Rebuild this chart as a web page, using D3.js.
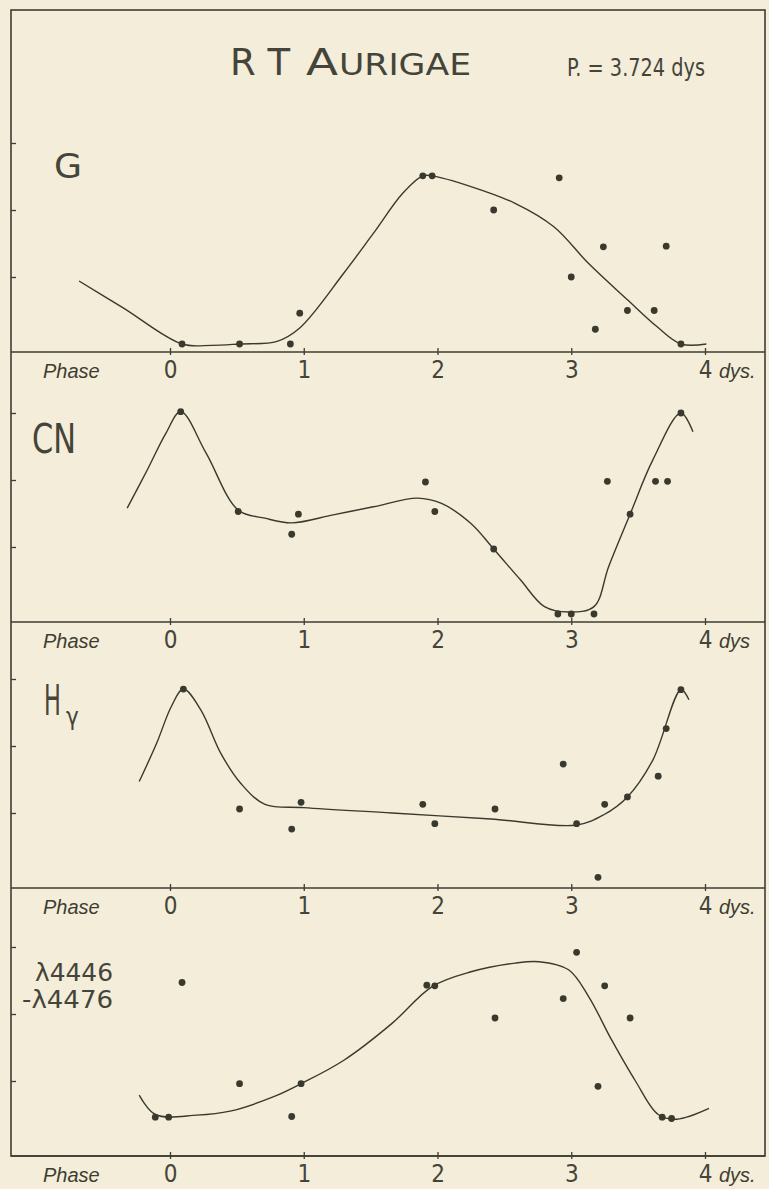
<!DOCTYPE html>
<html>
<head>
<meta charset="utf-8">
<script src="https://cdn.jsdelivr.net/npm/d3@7/dist/d3.min.js"></script>
<style>
  body { margin: 0; background: #f3edd9; }
  svg { display: block; }
  .frame { fill: none; stroke: #3e3d32; stroke-width: 1.6; }
  .baseline { stroke: #3e3d32; stroke-width: 1.6; }
  .fit { fill: none; stroke: #3a392e; stroke-width: 1.4; stroke-linejoin: round; }
  .dot { fill: #3a392e; }
  .hand { fill: #45443a; font-family: "Liberation Sans Narrow", "DejaVu Sans Condensed", "Liberation Sans", sans-serif; }
  .phase { fill: #3e3d32; font-family: "Liberation Sans", "DejaVu Sans", sans-serif; font-style: italic; font-size: 20px; }
  .axis .domain { display: none; }
  .axis line { stroke: #3e3d32; stroke-width: 1.3; }
</style>
</head>
<body>
<svg id="chart" width="769" height="1189"></svg>
<script>
const W = 769, H = 1189;
const FRAME_L = 11, FRAME_R = 765, FRAME_T = 10;
const LEVEL_STEP = 67;

// phase in days, relative line depth (tick units)
const phaseTicks = [0, 1, 2, 3, 4];
const levelTicks = [1, 2, 3];

const gDots = [
  [0.09, 0.0], [0.52, 0.0], [0.90, 0.0], [0.97, 0.46], [1.89, 2.51], [1.96, 2.51],
  [2.42, 2.0], [2.91, 2.48], [3.0, 1.0], [3.24, 1.45], [3.71, 1.46], [3.18, 0.22],
  [3.42, 0.5], [3.62, 0.5], [3.82, 0.0]
];
const gCurve = [
  [-0.68, 0.94], [-0.35, 0.54], [0.09, 0.0], [0.31, -0.02], [0.52, 0.0], [0.80, 0.04],
  [0.97, 0.24], [1.30, 1.06], [1.52, 1.65], [1.74, 2.25], [1.89, 2.51], [1.96, 2.51],
  [2.25, 2.35], [2.58, 2.1], [2.87, 1.75], [3.13, 1.2], [3.42, 0.66], [3.64, 0.26],
  [3.82, 0.0], [4.01, 0.0]
];

const cnDots = [
  [0.08, 3.02], [0.51, 1.53], [0.96, 1.49], [0.91, 1.19], [1.91, 1.97], [1.98, 1.53],
  [2.42, 0.97], [2.90, 0.0], [3.0, 0.0], [3.17, 0.0], [3.27, 1.98], [3.44, 1.49],
  [3.63, 1.98], [3.72, 1.98], [3.82, 3.0]
];
const cnCurve = [
  [-0.32, 1.58], [-0.17, 2.15], [-0.03, 2.7], [0.08, 3.02], [0.27, 2.4], [0.51, 1.55],
  [0.71, 1.43], [0.91, 1.36], [1.22, 1.48], [1.52, 1.6], [1.85, 1.73], [2.03, 1.65],
  [2.25, 1.35], [2.42, 0.97], [2.62, 0.51], [2.80, 0.11], [2.98, 0.03], [3.17, 0.11],
  [3.28, 0.71], [3.44, 1.49], [3.61, 2.3], [3.82, 3.0], [3.91, 2.72]
];

const hgDots = [
  [0.10, 2.85], [0.52, 1.06], [0.98, 1.16], [0.91, 0.76], [1.89, 1.13], [1.98, 0.84],
  [2.43, 1.06], [2.94, 1.73], [3.04, 0.84], [3.20, 0.04], [3.25, 1.13], [3.42, 1.24],
  [3.65, 1.55], [3.71, 2.26], [3.82, 2.84]
];
const hgCurve = [
  [-0.23, 1.47], [-0.10, 2.04], [0.01, 2.59], [0.10, 2.85], [0.23, 2.54], [0.38, 1.89],
  [0.53, 1.44], [0.71, 1.13], [1.0, 1.08], [1.66, 1.0], [2.40, 0.91], [3.04, 0.82],
  [3.24, 0.97], [3.42, 1.24], [3.61, 1.79], [3.82, 2.84], [3.88, 2.69]
];

const lamDots = [
  [-0.11, 0.46], [-0.01, 0.46], [0.09, 2.47], [0.52, 0.96], [0.91, 0.47], [0.98, 0.96],
  [1.92, 2.43], [1.98, 2.42], [2.43, 1.94], [2.94, 2.23], [3.04, 2.92], [3.20, 0.92],
  [3.25, 2.42], [3.44, 1.94], [3.68, 0.46], [3.75, 0.44]
];
const lamCurve = [
  [-0.23, 0.79], [-0.11, 0.5], [0.20, 0.49], [0.45, 0.55], [0.78, 0.77], [0.98, 0.96],
  [1.30, 1.31], [1.66, 1.86], [1.96, 2.41], [2.25, 2.63], [2.58, 2.76], [2.76, 2.78],
  [2.98, 2.66], [3.13, 2.26], [3.30, 1.62], [3.48, 1.0], [3.65, 0.5], [3.79, 0.43],
  [4.03, 0.59]
];

const unitLabels = ['dys.', 'dys', 'dys.', 'dys.'];

const svg = d3.select('#chart');

svg.append('rect')
    .attr('width', W).attr('height', H)
    .attr('fill', '#f3edd9');

const x = d3.scaleLinear().domain([0, 4]).range([170, 705]);

const panels = [
  {dots: gDots, curve: gCurve, axisY: 352},
  {dots: cnDots, curve: cnCurve, axisY: 622},
  {dots: hgDots, curve: hgCurve, axisY: 888},
  {dots: lamDots, curve: lamCurve, axisY: 1156}
];

// outer frame
svg.append('rect')
    .attr('class', 'frame')
    .attr('x', FRAME_L).attr('y', FRAME_T)
    .attr('width', FRAME_R - FRAME_L)
    .attr('height', panels[3].axisY - FRAME_T);

// title
const title = svg.append('g').attr('class', 'hand');
title.append('text').attr('x', 230).attr('y', 75)
    .attr('font-size', 37).attr('textLength', 60).attr('lengthAdjust', 'spacingAndGlyphs')
    .text('R T');
title.append('text').attr('x', 306).attr('y', 75)
    .attr('font-size', 37).attr('textLength', 32).attr('lengthAdjust', 'spacingAndGlyphs')
    .text('A');
title.append('text').attr('x', 339).attr('y', 75)
    .attr('font-size', 30).attr('textLength', 132).attr('lengthAdjust', 'spacingAndGlyphs')
    .text('URIGAE');
title.append('text').attr('x', 567).attr('y', 76)
    .attr('font-size', 25).attr('textLength', 138).attr('lengthAdjust', 'spacingAndGlyphs')
    .text('P. = 3.724 dys');

const line = d3.line().curve(d3.curveCatmullRom.alpha(0.5));

panels.forEach((p, i) => {
    const y = d3.scaleLinear()
        .domain([0, 3])
        .range([p.axisY - 8, p.axisY - 8 - 3 * LEVEL_STEP]);

    // separating axis line
    svg.append('line')
        .attr('class', 'baseline')
        .attr('x1', FRAME_L).attr('x2', FRAME_R)
        .attr('y1', p.axisY).attr('y2', p.axisY);

    // level ticks on the left edge
    svg.append('g')
        .attr('class', 'axis')
        .attr('transform', `translate(${FRAME_L}, 0)`)
        .call(d3.axisRight(y).tickValues(levelTicks).tickSize(5).tickFormat(''));

    // phase ticks + numbers
    const ax = svg.append('g')
        .attr('class', 'axis')
        .attr('transform', `translate(0, ${p.axisY})`)
        .call(d3.axisBottom(x).tickValues(phaseTicks).tickSize(4).tickFormat(d3.format('d')));
    ax.selectAll('.tick line').attr('y1', -4).attr('y2', 3);
    ax.selectAll('.tick text')
        .attr('class', 'hand')
        .attr('y', 26).attr('dy', 0)
        .attr('font-size', 24)
        .attr('fill', '#45443a');

    svg.append('text')
        .attr('class', 'phase')
        .attr('x', 43).attr('y', p.axisY + 26)
        .text('Phase');
    svg.append('text')
        .attr('class', 'phase')
        .attr('x', x(4) + 14).attr('y', p.axisY + 26)
        .text(unitLabels[i]);

    svg.append('path')
        .datum(p.curve.map(d => [x(d[0]), y(d[1])]))
        .attr('class', 'fit')
        .attr('d', line);

    svg.selectAll(null)
        .data(p.dots)
        .enter().append('circle')
            .attr('class', 'dot')
            .attr('cx', d => x(d[0]))
            .attr('cy', d => y(d[1]))
            .attr('r', 3.4);
});

// panel names
const names = svg.append('g').attr('class', 'hand');
names.append('text').attr('x', 54).attr('y', 178)
    .attr('font-size', 33).attr('textLength', 28).attr('lengthAdjust', 'spacingAndGlyphs')
    .text('G');
names.append('text').attr('x', 32).attr('y', 453)
    .attr('font-size', 41).attr('textLength', 44).attr('lengthAdjust', 'spacingAndGlyphs')
    .text('CN');
names.append('text')
    .attr('transform', 'translate(44, 715) scale(0.58, 1)')
    .attr('font-size', 43)
    .text('H');
names.append('text')
    .attr('x', 66).attr('y', 725)
    .attr('font-size', 24)
    .text('γ');
names.append('text').attr('x', 35).attr('y', 981)
    .attr('font-size', 25).attr('textLength', 78).attr('lengthAdjust', 'spacingAndGlyphs')
    .text('λ4446');
names.append('text').attr('x', 22).attr('y', 1008)
    .attr('font-size', 25).attr('textLength', 91).attr('lengthAdjust', 'spacingAndGlyphs')
    .text('-λ4476');
</script>
</body>
</html>
